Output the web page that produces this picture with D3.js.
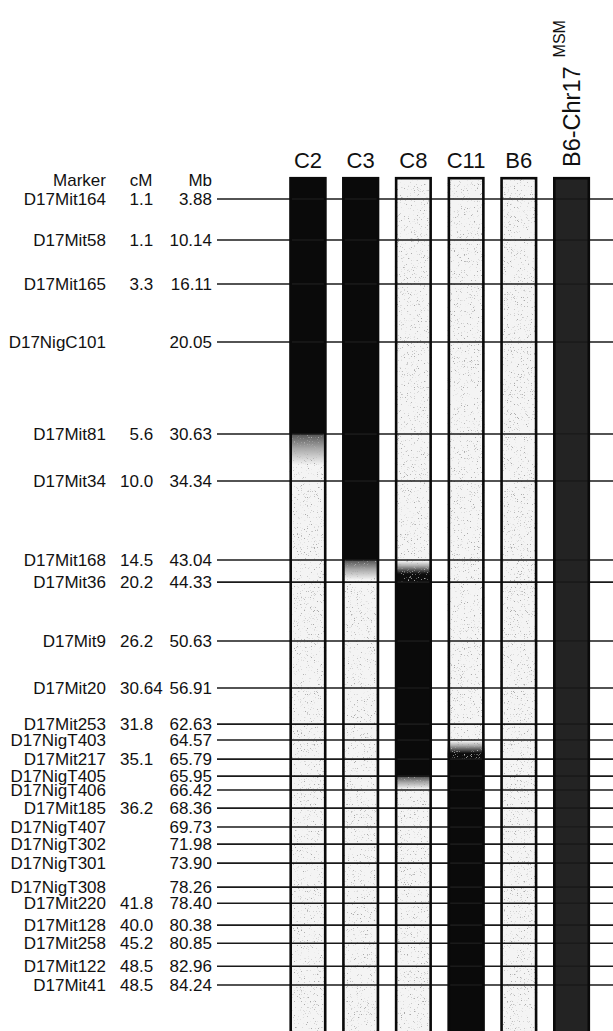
<!DOCTYPE html>
<html>
<head>
<meta charset="utf-8">
<script src="https://cdn.jsdelivr.net/npm/d3@7/dist/d3.min.js"></script>
<style>
  html, body { margin: 0; padding: 0; background: #fff; }
  svg { display: block; }
  text { font-family: "Liberation Sans", Arial, Helvetica, sans-serif; fill: #111; }
</style>
</head>
<body>
<svg id="chart" width="613" height="1031"></svg>
<script>
// ---- Data ---------------------------------------------------------------
const markers = ["D17Mit164","D17Mit58","D17Mit165","D17NigC101","D17Mit81","D17Mit34",
  "D17Mit168","D17Mit36","D17Mit9","D17Mit20","D17Mit253","D17NigT403","D17Mit217",
  "D17NigT405","D17NigT406","D17Mit185","D17NigT407","D17NigT302","D17NigT301",
  "D17NigT308","D17Mit220","D17Mit128","D17Mit258","D17Mit122","D17Mit41"];

const cM = ["1.1","1.1","3.3","","5.6","10.0","14.5","20.2","26.2","30.64","31.8","",
  "35.1","","","36.2","","","","","41.8","40.0","45.2","48.5","48.5"];

const mb = [3.88,10.14,16.11,20.05,30.63,34.34,43.04,44.33,50.63,56.91,62.63,64.57,
  65.79,65.95,66.42,68.36,69.73,71.98,73.90,78.26,78.40,80.38,80.85,82.96,84.24];

const strains = ["C2","C3","C8","C11","B6","B6-Chr17"];

// Genotype call at each marker: "M" = MSM allele, "B" = B6 allele
const genoC2  = "MMMMMBBBBBBBBBBBBBBBBBBBB".split("");
const genoC3  = "MMMMMMMBBBBBBBBBBBBBBBBBB".split("");
const genoC8  = "BBBBBBBMMMMMMMBBBBBBBBBBB".split("");
const genoC11 = "BBBBBBBBBBBBMMMMMMMMMMMMM".split("");
const genoB6  = "BBBBBBBBBBBBBBBBBBBBBBBBB".split("");
const genoMSM = "MMMMMMMMMMMMMMMMMMMMMMMMM".split("");
const genotypes = [genoC2, genoC3, genoC8, genoC11, genoB6, genoMSM];

// ---- Layout -------------------------------------------------------------
const W = 613, H = 1031;
// Schematic row slot of each marker line (in text-row units)
const rowSlot = [0, 2.19, 4.54, 7.64, 12.56, 15.07, 19.29, 20.47, 23.62, 26.13, 28.06,
  28.91, 29.93, 30.84, 31.58, 32.55, 33.56, 34.47, 35.49, 36.77, 37.63, 38.80, 39.77,
  41.00, 42.0];

const svg = d3.select("#chart");
const y = d3.scaleLinear().domain([0, 42]).range([199, 985]);
const x = d3.scaleBand().domain(strains).range([289.5, 590]).paddingInner(0.3).paddingOuter(0);
const bw = x.bandwidth();
const barTop = 177, barBottom = H + 5;
const fmtMb = d3.format(".2f");

const colDark = "#0a0a0a", colMSM = "#232323", colLight = "#f4f4f4";
const nameRight = 106, cmDecimal = 139, mbRight = 212, lineStart = 217;

const defs = svg.append("defs");

// Halftone-like stipple for the pale (B6 allele) fills
const stip = defs.append("filter").attr("id", "stipple")
  .attr("x", 0).attr("y", 0).attr("width", 1).attr("height", 1)
  .attr("filterUnits", "objectBoundingBox");
stip.append("feTurbulence").attr("type", "fractalNoise").attr("baseFrequency", 1.3)
  .attr("numOctaves", 1).attr("seed", 7).attr("result", "noise");
stip.append("feColorMatrix").attr("in", "noise").attr("type", "matrix")
  .attr("values", "0 0 0 0 0.4  0 0 0 0 0.4  0 0 0 0 0.4  9 0 0 0 -5.65").attr("result", "dots");
stip.append("feComposite").attr("in", "dots").attr("in2", "SourceGraphic")
  .attr("operator", "atop");

// ---- Bars ---------------------------------------------------------------
const barsG = svg.append("g");

strains.forEach((s, si) => {
  const g = genotypes[si];
  const x0 = x(s);
  const baseCol = s === "B6-Chr17" ? colMSM : colDark;
  const col = c => c === "M" ? baseCol : colLight;
  const seg = (y0, y1, fill, textured) => barsG.append("rect")
    .attr("x", x0).attr("width", bw).attr("y", y0).attr("height", Math.max(0, y1 - y0))
    .attr("fill", fill)
    .attr("filter", textured ? "url(#stipple)" : null);

  seg(barTop, y(rowSlot[0]), col(g[0]), g[0] === "B");
  for (let i = 0; i < g.length - 1; i++) {
    const ya = y(rowSlot[i]), yb = y(rowSlot[i + 1]);
    if (g[i] === g[i + 1]) { seg(ya, yb, col(g[i]), g[i] === "B"); continue; }
    // allele switch: blend just below the upper marker
    const toDark = g[i + 1] === "M";
    const len = toDark ? Math.min(13, (yb - ya) * 0.65) : Math.min(30, (yb - ya) * 0.85);
    const id = `sw-${si}-${i}`;
    const lg = defs.append("linearGradient").attr("id", id)
      .attr("gradientUnits", "userSpaceOnUse")
      .attr("x1", 0).attr("x2", 0).attr("y1", ya + 1).attr("y2", ya + 1 + len);
    if (toDark) {
      lg.append("stop").attr("offset", 0).attr("stop-color", colLight);
      lg.append("stop").attr("offset", 0.35).attr("stop-color", "#b0b0b0");
      lg.append("stop").attr("offset", 1).attr("stop-color", baseCol);
    } else {
      lg.append("stop").attr("offset", 0).attr("stop-color", "#5a5a5a");
      lg.append("stop").attr("offset", 0.45).attr("stop-color", "#a8a8a8");
      lg.append("stop").attr("offset", 1).attr("stop-color", colLight);
    }
    seg(ya, yb, `url(#${id})`, true);
  }
  const gl = g[g.length - 1];
  seg(y(rowSlot[g.length - 1]), barBottom, col(gl), gl === "B");
});

// ---- Marker lines -------------------------------------------------------
svg.append("g").selectAll("line").data(markers).join("line")
  .attr("x1", lineStart).attr("x2", W)
  .attr("y1", (d, i) => y(rowSlot[i])).attr("y2", (d, i) => y(rowSlot[i]))
  .attr("stroke", "#1a1a1a").attr("stroke-width", 1.6);

// Bar outlines
svg.append("g").selectAll("rect").data(strains).join("rect")
  .attr("x", d => x(d) + 1.2).attr("width", bw - 2.4)
  .attr("y", barTop + 1.2).attr("height", barBottom - barTop)
  .attr("fill", "none").attr("stroke", "#0a0a0a").attr("stroke-width", 2.6);

// ---- Marker table -------------------------------------------------------
const fs = 17;
const table = svg.append("g").attr("font-size", fs);
const rowY = i => y(rowSlot[i]);

table.append("text").attr("x", nameRight).attr("y", y(-1)).attr("dy", "0.35em")
  .attr("text-anchor", "end").text("Marker");
table.append("text").attr("x", cmDecimal + 2).attr("y", y(-1)).attr("dy", "0.35em")
  .attr("text-anchor", "middle").text("cM");
table.append("text").attr("x", mbRight).attr("y", y(-1)).attr("dy", "0.35em")
  .attr("text-anchor", "end").text("Mb");

markers.forEach((m, i) => {
  table.append("text").attr("x", nameRight).attr("y", rowY(i)).attr("dy", "0.35em")
    .attr("text-anchor", "end").text(m);
  if (cM[i]) {
    const [ip, fp] = cM[i].split(".");
    table.append("text").attr("x", cmDecimal).attr("y", rowY(i)).attr("dy", "0.35em")
      .attr("text-anchor", "end").text(ip);
    table.append("text").attr("x", cmDecimal).attr("y", rowY(i)).attr("dy", "0.35em")
      .attr("text-anchor", "start").text("." + fp);
  }
  table.append("text").attr("x", mbRight).attr("y", rowY(i)).attr("dy", "0.35em")
    .attr("text-anchor", "end").text(fmtMb(mb[i]));
});

// ---- Strain headers -----------------------------------------------------
const heads = strains.slice(0, 5);
svg.append("g").attr("font-size", 22).selectAll("text").data(heads).join("text")
  .attr("x", d => x(d) + bw / 2).attr("y", 168)
  .attr("text-anchor", "middle").text(d => d);

const last = strains[strains.length - 1];
const vt = svg.append("text")
  .attr("transform", `translate(${x(last) + bw / 2 + 8.5},167) rotate(-90)`)
  .attr("font-size", 23.5).attr("text-anchor", "start");
vt.append("tspan").text(last);
vt.append("tspan").attr("font-size", 16).attr("dx", 9).attr("dy", -15).text("MSM");
</script>
</body>
</html>
